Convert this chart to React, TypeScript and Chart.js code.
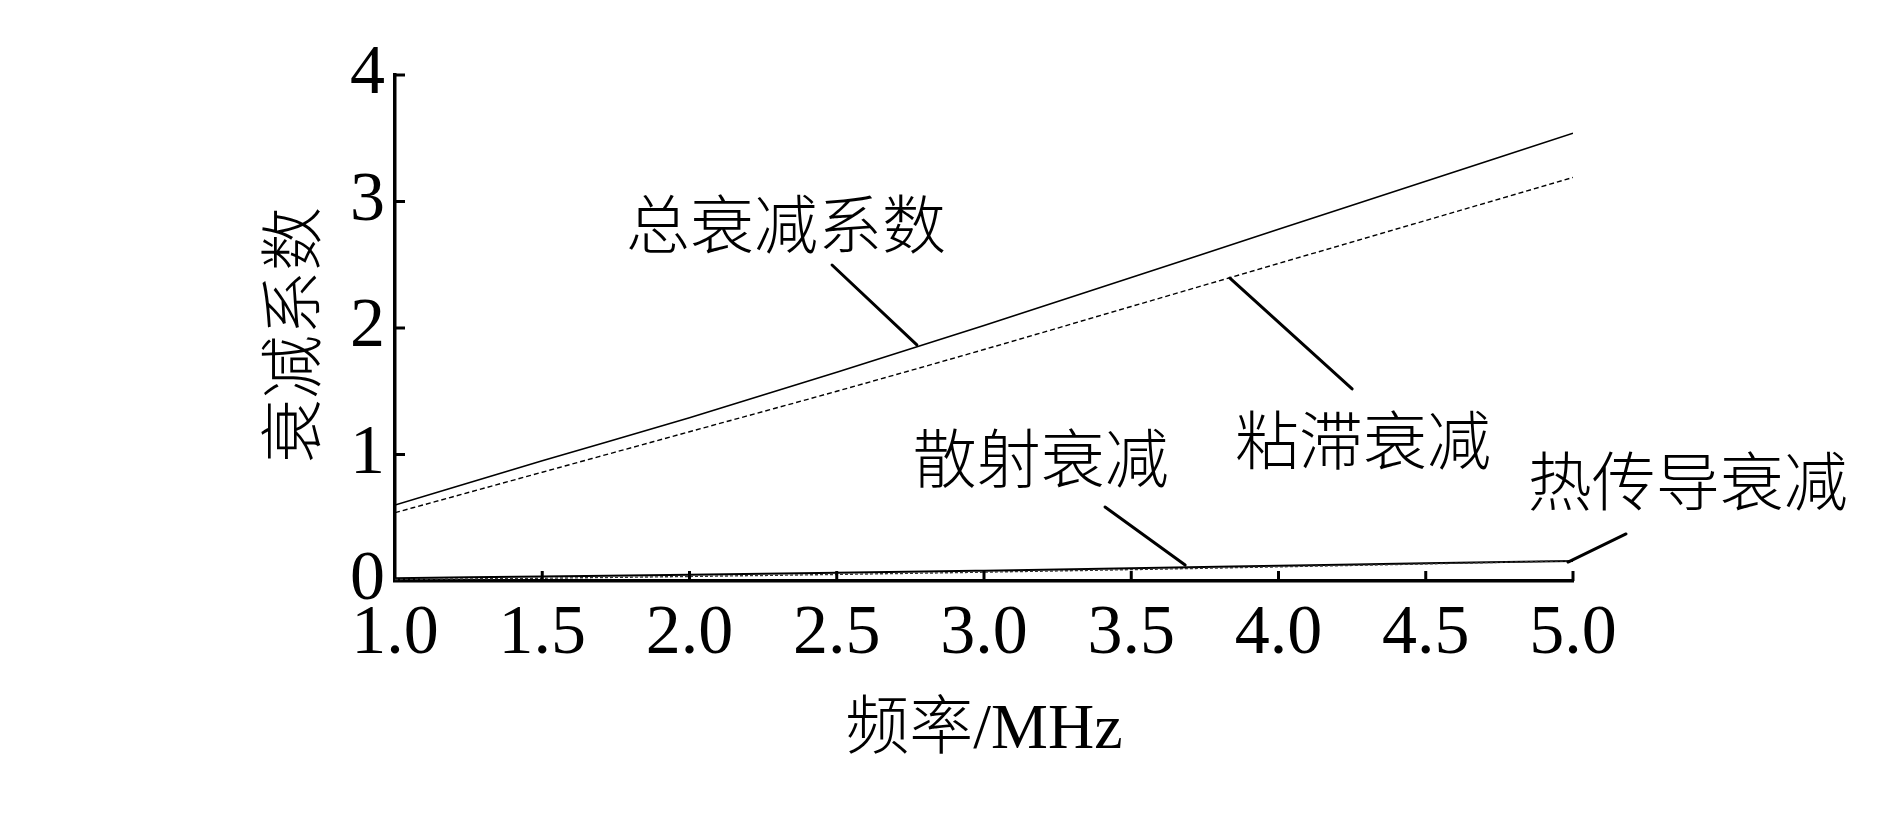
import React, { useEffect, useRef } from "react";
import { Chart, registerables } from "chart.js";

Chart.register(...registerables);

// ---- data ----
const frequencyMHz = [1.0, 1.5, 2.0, 2.5, 3.0, 3.5, 4.0, 4.5, 5.0];
const totalAtten = [0.6, 0.95, 1.29, 1.65, 2.02, 2.4, 2.78, 3.16, 3.54];
const viscousAtten = [0.54, 0.86, 1.18, 1.5, 1.83, 2.17, 2.51, 2.85, 3.19];
const scatterAtten = [0.012, 0.022, 0.036, 0.052, 0.07, 0.09, 0.112, 0.135, 0.16];
const thermalAtten = [0.022, 0.036, 0.05, 0.065, 0.082, 0.1, 0.12, 0.14, 0.158];

const xTickValues = [1.0, 1.5, 2.0, 2.5, 3.0, 3.5, 4.0, 4.5, 5.0];
const yTickValues = [0, 1, 2, 3, 4];

const xTitle = "频率/MHz";
const yTitle = "衰减系数";

// labels with leader lines, in data units (frequency, attenuation)
const labelTexts = ["总衰减系数", "粘滞衰减", "散射衰减", "热传导衰减"];
const labelAt = [
  [2.328, 2.822],
  [4.287, 1.115],
  [3.193, 0.972],
  [5.39, 0.791],
];
const leaderFrom = [
  [2.484, 2.498],
  [3.835, 2.395],
  [3.411, 0.585],
  [4.983, 0.15],
];
const leaderTo = [
  [2.772, 1.866],
  [4.25, 1.518],
  [3.683, 0.126],
  [5.18, 0.372],
];

const LATIN = "'Liberation Serif', 'Times New Roman'";
const CJK = "'Noto Sans CJK SC'";

const overlayPlugin = {
  id: "overlay",
  afterDraw(chart: any) {
    const ctx = chart.ctx;
    const xs = chart.scales.x;
    const ys = chart.scales.y;
    const area = chart.chartArea;
    ctx.save();
    ctx.strokeStyle = "#000";
    ctx.fillStyle = "#000";
    // inward tick marks
    ctx.lineWidth = 3;
    ctx.lineCap = "butt";
    const tl = 10;
    xTickValues.forEach((v) => {
      if (v === xs.min) return;
      const px = xs.getPixelForValue(v);
      ctx.beginPath();
      ctx.moveTo(px, area.bottom);
      ctx.lineTo(px, area.bottom - tl);
      ctx.stroke();
    });
    yTickValues.forEach((v) => {
      if (v === ys.min) return;
      const py = ys.getPixelForValue(v);
      ctx.beginPath();
      ctx.moveTo(area.left, py);
      ctx.lineTo(area.left + tl, py);
      ctx.stroke();
    });
    // leader lines
    ctx.lineWidth = 3;
    ctx.lineCap = "round";
    for (let i = 0; i < labelTexts.length; i++) {
      ctx.beginPath();
      ctx.moveTo(xs.getPixelForValue(leaderFrom[i][0]), ys.getPixelForValue(leaderFrom[i][1]));
      ctx.lineTo(xs.getPixelForValue(leaderTo[i][0]), ys.getPixelForValue(leaderTo[i][1]));
      ctx.stroke();
    }
    // labels
    ctx.font = `300 64px ${CJK}`;
    ctx.textAlign = "center";
    ctx.textBaseline = "middle";
    for (let i = 0; i < labelTexts.length; i++) {
      ctx.fillText(
        labelTexts[i],
        xs.getPixelForValue(labelAt[i][0]),
        ys.getPixelForValue(labelAt[i][1])
      );
    }
    // axis titles
    ctx.font = `300 64px ${LATIN}, ${CJK}`;
    ctx.fillText(xTitle, (area.left + area.right) / 2, area.bottom + 150);
    ctx.translate(area.left - 104, (area.top + area.bottom) / 2 + 7);
    ctx.rotate(-Math.PI / 2);
    ctx.font = `300 64px ${CJK}`;
    ctx.fillText(yTitle, 0, 0);
    ctx.restore();
  },
};

export default function App() {
  const ref = useRef<HTMLCanvasElement | null>(null);
  useEffect(() => {
    document.body.style.margin = "0";
    const canvas = ref.current!;
    const chart = new Chart(canvas, {
      type: "line",
      data: {
        labels: frequencyMHz,
        datasets: [
          {
            label: "总衰减系数",
            data: frequencyMHz.map((f, i) => ({ x: f, y: totalAtten[i] })),
            borderColor: "#000",
            borderWidth: 1.6,
            pointRadius: 0,
            cubicInterpolationMode: "monotone",
          },
          {
            label: "粘滞衰减",
            data: frequencyMHz.map((f, i) => ({ x: f, y: viscousAtten[i] })),
            borderColor: "#000",
            borderWidth: 1.4,
            borderDash: [5, 3],
            pointRadius: 0,
            cubicInterpolationMode: "monotone",
          },
          {
            label: "散射衰减",
            data: frequencyMHz.map((f, i) => ({ x: f, y: scatterAtten[i] })),
            borderColor: "#333",
            borderWidth: 1.4,
            borderDash: [3, 2],
            pointRadius: 0,
            cubicInterpolationMode: "monotone",
          },
          {
            label: "热传导衰减",
            data: frequencyMHz.map((f, i) => ({ x: f, y: thermalAtten[i] })),
            borderColor: "#000",
            borderWidth: 2,
            pointRadius: 0,
            cubicInterpolationMode: "monotone",
          },
        ],
      },
      options: {
        responsive: false,
        animation: false,
        devicePixelRatio: 1,
        layout: { padding: { left: 295, right: 317, top: 75, bottom: 0 } },
        plugins: { legend: { display: false }, tooltip: { enabled: false } },
        scales: {
          x: {
            type: "linear",
            min: 1,
            max: 5,
            afterBuildTicks: (s: any) => {
              s.ticks = xTickValues.map((v) => ({ value: v }));
            },
            afterFit: (s: any) => {
              s.height = 235;
            },
            ticks: {
              color: "#000",
              font: { family: LATIN, size: 70 },
              padding: 12,
              maxRotation: 0,
              autoSkip: false,
              callback: (v: any) => Number(v).toFixed(1),
            },
            grid: { display: false, drawTicks: false },
            border: { display: true, color: "#000", width: 3.5 },
          },
          y: {
            type: "linear",
            min: 0,
            max: 4,
            afterBuildTicks: (s: any) => {
              s.ticks = yTickValues.map((v) => ({ value: v }));
            },
            afterFit: (s: any) => {
              s.width = 100;
            },
            ticks: {
              color: "#000",
              font: { family: LATIN, size: 70 },
              padding: 10,
              autoSkip: false,
              callback: (v: any) => String(v),
            },
            grid: { display: false, drawTicks: false },
            border: { display: true, color: "#000", width: 3.5 },
          },
        },
      },
      plugins: [overlayPlugin],
    } as any);
    return () => chart.destroy();
  }, []);
  return (
    <canvas
      ref={ref}
      width={1890}
      height={816}
      style={{ display: "block", width: "1890px", height: "816px", background: "#fff" }}
    />
  );
}
